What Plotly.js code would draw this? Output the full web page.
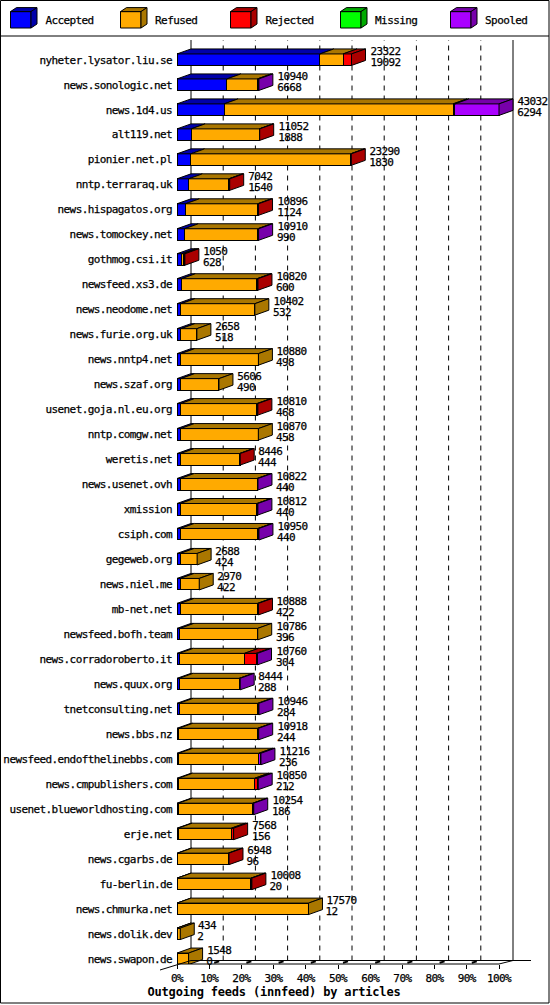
<!DOCTYPE html>
<html>
<head>
<meta charset="utf-8">
<script src="https://cdn.plot.ly/plotly-3.0.1.min.js"></script>
<style>
html,body{margin:0;padding:0;background:#fff;}
#chart{width:550px;height:1005px;}
.main-svg text{letter-spacing:-0.6px;stroke:#000;stroke-width:0.25px;}
.main-svg .gtitle{letter-spacing:-0.2px;stroke-width:0;}
</style>
</head>
<body>
<div id="chart"></div>
<script>
// ---------------- DATA ----------------
const categories = [
  "nyheter.lysator.liu.se","news.sonologic.net","news.1d4.us","alt119.net","pionier.net.pl",
  "nntp.terraraq.uk","news.hispagatos.org","news.tomockey.net","gothmog.csi.it","newsfeed.xs3.de",
  "news.neodome.net","news.furie.org.uk","news.nntp4.net","news.szaf.org","usenet.goja.nl.eu.org",
  "nntp.comgw.net","weretis.net","news.usenet.ovh","xmission","csiph.com",
  "gegeweb.org","news.niel.me","mb-net.net","newsfeed.bofh.team","news.corradoroberto.it",
  "news.quux.org","tnetconsulting.net","news.bbs.nz","newsfeed.endofthelinebbs.com","news.cmpublishers.com",
  "usenet.blueworldhosting.com","erje.net","news.cgarbs.de","fu-berlin.de","news.chmurka.net",
  "news.dolik.dev","news.swapon.de"
];
const offered = [
  23322,10940,43032,11052,23290,7042,10896,10910,1050,10820,
  10402,2658,10880,5606,10810,10870,8446,10822,10812,10950,
  2688,2970,10888,10786,10760,8444,10946,10918,11216,10850,
  10254,7568,6948,10008,17570,434,1548
];
const accepted = [
  19092,6668,6294,1888,1830,1540,1124,990,628,600,
  532,518,498,490,468,458,444,440,440,440,
  424,422,422,396,304,288,284,244,236,212,
  186,156,96,20,12,2,0
];
const refused = [
  3100,4072,30600,9104,21360,5372,9642,9790,250,10090,
  9870,2140,10382,5116,10212,10412,7902,10252,10242,10380,
  2264,2548,10336,10390,8716,8026,10532,10544,10710,10188,
  9938,7112,6752,9858,17558,432,1548
];
const rejected = [
  1130,0,0,60,100,130,130,0,172,130,
  0,0,0,0,130,0,100,0,0,0,
  0,0,130,0,1570,0,0,0,0,300,
  0,300,100,130,0,0,0
];
const missing = [
  0,0,250,0,0,0,0,0,0,0,
  0,0,0,0,0,0,0,0,0,0,
  0,0,0,0,0,0,0,0,0,0,
  0,0,0,0,0,0,0
];
const spooled = [
  0,200,5888,0,0,0,0,130,0,0,
  0,0,0,0,0,0,0,130,130,130,
  0,0,0,0,170,130,130,130,270,150,
  130,0,0,0,0,0,0
];
const seriesNames = ["Accepted","Refused","Rejected","Missing","Spooled"];
const tickPercents = [0,10,20,30,40,50,60,70,80,90,100];
const chartTitle = "Outgoing feeds (innfeed) by articles";

// ---------------- STYLE / GEOMETRY ----------------
const FONT = "DejaVu Sans Mono";
const frontColors = ["#0000ff","#ffaa00","#ff0000","#00ff00","#aa00ff"];
const darkColors  = ["#0000aa","#aa7700","#aa0000","#00aa00","#7700aa"];
const W = 550, H = 1005;
const PLOT_L = 177, PLOT_R = 514, PLOT_T = 40, PLOT_B = 964;
const FRONT_FULL = 499;          // pixel x of 100 %
const DX = 14, DY = 5;           // 3D depth in px
const ROW0 = 59.7, PITCH = 24.975, BAR_H = 11.5;

const series = [accepted, refused, rejected, missing, spooled];
const n = categories.length;
const idx = categories.map((_, i) => i);
const maxTotal = Math.max(...offered);
const plotW = PLOT_R - PLOT_L, plotH = PLOT_B - PLOT_T;
const XMAX = maxTotal * plotW / (FRONT_FULL - PLOT_L);
const yTopIdx = -(ROW0 - PLOT_T) / PITCH;
const yBotIdx = (PLOT_B - ROW0) / PITCH;
const ux = XMAX / plotW;
const uy = (yBotIdx - yTopIdx) / plotH;
const bw = BAR_H / PITCH;
const px2x = p => (p - PLOT_L) / plotW;
const px2y = p => (PLOT_B - p) / plotH;

// ---------------- TRACES ----------------
const traces = series.map((arr, s) => ({
  type: "bar", orientation: "h", name: seriesNames[s],
  y: idx, x: arr.map(v => v > 0 ? v : null), width: bw,
  marker: {color: frontColors[s], line: {color: "#000", width: 1}},
  showlegend: false, hoverinfo: "skip"
}));

// ---------------- SHAPES ----------------
const shapes = [];
// back-wall grid lines
tickPercents.forEach(p => {
  const solid = (p === 0 || p === 100);
  shapes.push({type: "line", layer: "below", xref: "x", yref: "paper",
    x0: p / 100 * maxTotal + DX * ux, x1: p / 100 * maxTotal + DX * ux,
    y0: px2y(PLOT_B - 3.5), y1: 1,
    line: {color: "#000", width: 1, dash: solid ? "solid" : "5px,5px"}});
});
// 3D faces of bars
for (let i = 0; i < n; i++) {
  let cum = 0, last = -1;
  const yT = i - bw / 2, yB = yT - DY * uy;
  series.forEach((arr, s) => {
    const v = arr[i];
    if (v > 0) {
      const c0 = cum, c1 = cum + v;
      shapes.push({type: "path", layer: "above", xref: "x", yref: "y",
        path: `M${c0},${yT} L${c1},${yT} L${c1 + DX * ux},${yB} L${c0 + DX * ux},${yB} Z`,
        fillcolor: darkColors[s], line: {color: "#000", width: 1}});
      cum = c1; last = s;
    }
  });
  if (last >= 0) {
    shapes.push({type: "path", layer: "above", xref: "x", yref: "y",
      path: `M${cum},${yT} L${cum},${yT + bw} L${cum + DX * ux},${yT + bw - DY * uy} L${cum + DX * ux},${yB} Z`,
      fillcolor: darkColors[last], line: {color: "#000", width: 1}});
  }
}
// floor lines
const pxLine = (x0, y0, x1, y1, w) => ({type: "line", xref: "paper", yref: "paper",
  x0: px2x(x0), y0: px2y(y0), x1: px2x(x1), y1: px2y(y1), line: {color: "#000", width: w || 1}});
shapes.push(pxLine(PLOT_L + DX, PLOT_B - 3.5, 531, PLOT_B - 3.5));
shapes.push(pxLine(PLOT_L, PLOT_B, FRONT_FULL, PLOT_B));
shapes.push(pxLine(FRONT_FULL, PLOT_B, FRONT_FULL + DX, PLOT_B - 3.5));
shapes.push(pxLine(160, 970, PLOT_L + DX, PLOT_B - 3.5));
tickPercents.slice(1, -1).forEach(p => {
  const fx = PLOT_L + p / 100 * (FRONT_FULL - PLOT_L);
  shapes.push(pxLine(fx + 5, PLOT_B - 1.2, fx + 10, PLOT_B - 2.6, 2));
});
// outer frame and legend separator
shapes.push({type: "rect", xref: "paper", yref: "paper",
  x0: px2x(0.5), y0: px2y(1003), x1: px2x(549), y1: px2y(0.5),
  line: {color: "#000", width: 1}, fillcolor: "rgba(0,0,0,0)"});
shapes.push(pxLine(0.5, 36, 549, 36));

// legend boxes
const annotations = [];
seriesNames.forEach((name, s) => {
  const bx = 10.5 + 110 * s, fw = 20.5, top = 11.6, bot = 28, ldx = 6, ldy = 4;
  shapes.push({type: "rect", xref: "paper", yref: "paper",
    x0: px2x(bx), x1: px2x(bx + fw), y0: px2y(bot), y1: px2y(top),
    fillcolor: frontColors[s], line: {color: "#000", width: 1}});
  shapes.push({type: "path", xref: "paper", yref: "paper",
    path: `M${px2x(bx)},${px2y(top)} L${px2x(bx + fw)},${px2y(top)} L${px2x(bx + fw + ldx)},${px2y(top - ldy)} L${px2x(bx + ldx)},${px2y(top - ldy)} Z`,
    fillcolor: darkColors[s], line: {color: "#000", width: 1}});
  shapes.push({type: "path", xref: "paper", yref: "paper",
    path: `M${px2x(bx + fw)},${px2y(top)} L${px2x(bx + fw)},${px2y(bot)} L${px2x(bx + fw + ldx)},${px2y(bot - ldy)} L${px2x(bx + fw + ldx)},${px2y(top - ldy)} Z`,
    fillcolor: darkColors[s], line: {color: "#000", width: 1}});
  annotations.push({xref: "paper", yref: "paper", x: px2x(bx + 31), y: px2y(20.5),
    xanchor: "left", yanchor: "middle", text: name, showarrow: false, borderpad: 0,
    font: {family: FONT, size: 11, color: "#000"}});
});

// value labels
for (let i = 0; i < n; i++) {
  let sum = 0; series.forEach(a => sum += a[i]);
  annotations.push({xref: "x", yref: "y", x: sum, y: i, xanchor: "left", yanchor: "middle",
    xshift: DX + 2, yshift: 8, text: String(offered[i]), showarrow: false, borderpad: 0,
    font: {family: FONT, size: 11, color: "#000"}});
  annotations.push({xref: "x", yref: "y", x: sum, y: i, xanchor: "left", yanchor: "middle",
    xshift: DX + 2, yshift: -3, text: String(accepted[i]), showarrow: false, borderpad: 0,
    font: {family: FONT, size: 11, color: "#000"}});
}

const layout = {
  width: W, height: H,
  margin: {l: PLOT_L, r: W - PLOT_R, t: PLOT_T, b: H - PLOT_B, pad: 0},
  paper_bgcolor: "#fff", plot_bgcolor: "#fff",
  barmode: "stack", bargap: 0,
  showlegend: false,
  title: {text: chartTitle, xref: "container", yref: "container",
    x: 274 / W, xanchor: "center", y: 1 - 991.5 / H, yanchor: "middle",
    font: {family: FONT, size: 12, weight: "bold", color: "#000"}},
  xaxis: {range: [0, XMAX], showgrid: false, zeroline: false, showline: false,
    tickvals: tickPercents.map(p => p / 100 * maxTotal),
    ticktext: tickPercents.map(p => p + "%"),
    ticks: "outside", ticklen: 4, tickwidth: 1, tickcolor: "#000",
    tickfont: {family: FONT, size: 11, color: "#000"}, fixedrange: true},
  yaxis: {range: [yBotIdx, yTopIdx], showgrid: false, zeroline: false, showline: false,
    tickvals: idx, ticktext: categories, ticks: "", ticklabelstandoff: 4,
    tickfont: {family: FONT, size: 11, color: "#000"}, fixedrange: true},
  shapes: shapes,
  annotations: annotations
};

Plotly.newPlot("chart", traces, layout, {staticPlot: true, displayModeBar: false});
</script>
</body>
</html>
